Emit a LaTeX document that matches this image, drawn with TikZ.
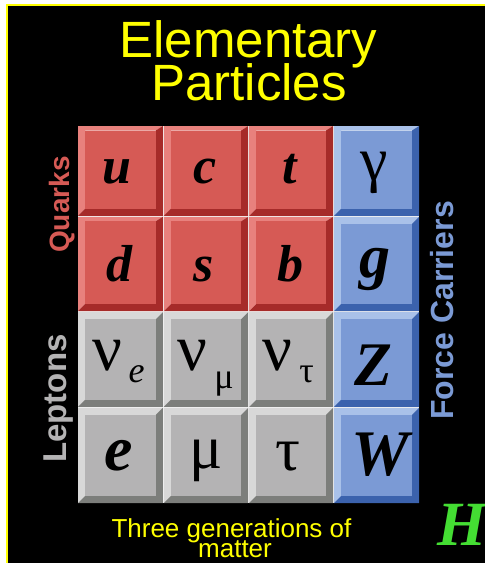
\documentclass[tikz,border=0pt]{standalone}
\usepackage{fontspec}
\setmainfont{Liberation Sans}
\newfontfamily\serifp{Liberation Serif}
\definecolor{rl}{HTML}{E8817D}
\definecolor{rf}{HTML}{D65A55}
\definecolor{rd}{HTML}{A62B29}
\definecolor{gl}{HTML}{D8D8D8}
\definecolor{gf}{HTML}{B4B3B4}
\definecolor{gd}{HTML}{7C7E7B}
\definecolor{bl}{HTML}{A9C1E9}
\definecolor{bf}{HTML}{7B9AD5}
\definecolor{bd}{HTML}{3B62AD}
\definecolor{ttl}{HTML}{FFFF00}
\definecolor{hgreen}{HTML}{44DD33}
\newcommand\ptile[8]{%
  \fill[#5] (#1,#2) -- (#3,#2) -- (#3-7,#2+#8) -- (#1+7,#2+#8) -- (#1+7,#4-7) -- (#1,#4) -- cycle;
  \fill[#7] (#3,#2) -- (#3,#4) -- (#1,#4) -- (#1+7,#4-7) -- (#3-7,#4-7) -- (#3-7,#2+#8) -- cycle;
  \fill[#6] (#1+7,#2+#8) rectangle (#3-7,#4-7);
}
\tikzset{
  titletext/.style={anchor=base, inner sep=0pt, text=ttl, font=\fontsize{51}{51}\selectfont},
  foottext/.style={anchor=base, inner sep=0pt, text=ttl, font=\fontsize{26}{26}\selectfont},
  sidelabel/.style={anchor=base west, inner sep=0pt, rotate=90, font=\bfseries\fontsize{#1}{#1}\selectfont},
  bisym/.style={anchor=base, inner sep=0pt, text=black, font=\serifp\bfseries\itshape\fontsize{#1}{#1}\selectfont},
  grsym/.style={anchor=base, inner sep=0pt, text=black, font=\serifp\fontsize{#1}{#1}\selectfont},
  isub/.style={anchor=base, inner sep=0pt, text=black, font=\serifp\itshape\fontsize{#1}{#1}\selectfont},
}
\begin{document}
\begin{tikzpicture}[x=1pt,y=-1pt]
\useasboundingbox (0,0) rectangle (485,563);
\clip (0,0) rectangle (485,563);
\fill[white] (0,0) rectangle (485,563);
\fill[black] (6,4) rectangle (485,563);
\draw[ttl, line width=2pt] (7,5) rectangle (520,600);
% grid gaps
\fill[white!95!black] (78,126) rectangle (419,503);
% row 1
\ptile{78}{126}{162.8}{215.8}{rl}{rf}{rd}{4.5}
\ptile{163.8}{126}{248.2}{215.8}{rl}{rf}{rd}{4.5}
\ptile{249.2}{126}{333}{215.8}{rl}{rf}{rd}{4.5}
\ptile{334}{126}{419}{215.8}{bl}{bf}{bd}{4.5}
% row 2
\ptile{78}{216.8}{162.8}{311.2}{rl}{rf}{rd}{4.5}
\ptile{163.8}{216.8}{248.2}{311.2}{rl}{rf}{rd}{4.5}
\ptile{249.2}{216.8}{333}{311.2}{rl}{rf}{rd}{4.5}
\ptile{334}{216.8}{419}{311.2}{bl}{bf}{bd}{7}
% row 3
\ptile{78}{312.2}{162.8}{406.8}{gl}{gf}{gd}{7}
\ptile{163.8}{312.2}{248.2}{406.8}{gl}{gf}{gd}{7}
\ptile{249.2}{312.2}{333}{406.8}{gl}{gf}{gd}{7}
\ptile{334}{312.2}{419}{406.8}{bl}{bf}{bd}{7}
% row 4
\ptile{78}{407.8}{162.8}{503}{gl}{gf}{gd}{7}
\ptile{163.8}{407.8}{248.2}{503}{gl}{gf}{gd}{7}
\ptile{249.2}{407.8}{333}{503}{gl}{gf}{gd}{7}
\ptile{334}{407.8}{419}{503}{bl}{bf}{bd}{7}
% title
\node[titletext] (title1) at (248.5,57) {Elementary};
\node[titletext] (title2) at (249,100) {Particles};
% symbols
\node[bisym=52] (u) at (117,183) {u};
\node[bisym=52] (c) at (205,183) {c};
\node[bisym=52] (t) at (290,183) {t};
\node[grsym=62] (gamma) at (374,180) {γ};
\node[bisym=52] (d) at (119,281) {d};
\node[bisym=52] (s) at (204,281) {s};
\node[bisym=52] (b) at (290,281) {b};
\node[bisym=62] (g) at (375,277) {g};
\node[grsym=66] (nue) at (107.5,370) {ν};
\node[isub=36] (nuesub) at (136.5,382) {e};
\node[grsym=66] (num) at (192,370) {ν};
\node[grsym=36] (numsub) at (224,388) {μ};
\node[grsym=66] (nut) at (277,370) {ν};
\node[grsym=36] (nutsub) at (306.5,382) {τ};
\node[bisym=62] (Z) at (373,385) {Z};
\node[bisym=64] (e) at (119,470) {e};
\node[grsym=62] (mu) at (206,468) {μ};
\node[grsym=62] (tau) at (288,470) {τ};
\node[bisym=65] (W) at (380,475) {W};
\node[bisym=63, text=hgreen, anchor=base west] (H) at (437,545) {H};
% side labels
\node[sidelabel=28, text=rf] (quarks) at (69,253) {Quarks};
\node[sidelabel=33, text=gf] (leptons) at (66,463) {Leptons};
\node[sidelabel=32, text=bf] (force) at (453,420) {Force Carriers};
% footer
\node[foottext] (foot1) at (231.5,537) {Three generations of};
\node[foottext] (foot2) at (235,557) {matter};
\end{tikzpicture}
\end{document}
